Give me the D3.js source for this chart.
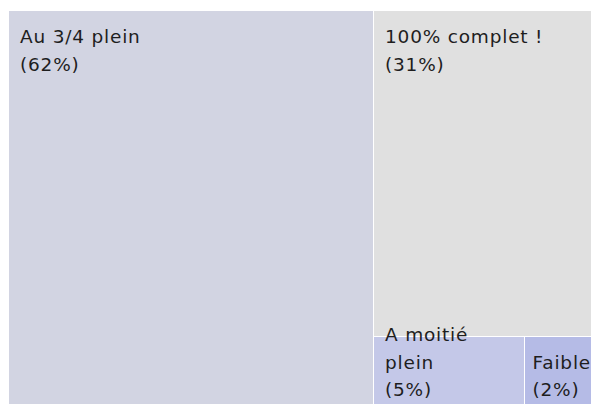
<!DOCTYPE html>
<html>
<head>
<meta charset="utf-8">
<script src="https://cdn.jsdelivr.net/npm/d3@7"></script>
<style>
  html, body { margin: 0; padding: 0; background: #ffffff; }
  svg { display: block; }
  text { font-family: "DejaVu Sans", sans-serif; }
</style>
</head>
<body>
<svg id="chart" width="592" height="406"></svg>
<script>
// Data
const categories = ["Au 3/4 plein", "100% complet !", "A moitié plein", "Faible"];
const values = [62.6, 30.9, 4.5, 2.0];
const percentLabels = ["62%", "31%", "5%", "2%"];
const colors = ["#d2d4e2", "#e0e0e0", "#c4c8e8", "#b5bbe6"];

const W = 592, H = 406;
const margin = { top: 11, right: 1, bottom: 2, left: 9 };

const svg = d3.select("#chart");

const root = d3.hierarchy({
  children: categories.map((c, i) => ({ name: c, value: values[i], pct: percentLabels[i], color: colors[i] }))
}).sum(d => d.value || 0).sort((a, b) => b.value - a.value);

d3.treemap()
  .tile(d3.treemapSquarify)
  .size([W - margin.left - margin.right, H - margin.top - margin.bottom])
  .paddingInner(1)
  .round(true)(root);

const g = svg.append("g").attr("transform", `translate(${margin.left},${margin.top})`);

const leaf = g.selectAll("g.leaf").data(root.leaves()).join("g").attr("class", "leaf");

leaf.append("rect")
  .attr("x", d => d.x0)
  .attr("y", d => d.y0)
  .attr("width", d => d.x1 - d.x0)
  .attr("height", d => d.y1 - d.y0)
  .attr("fill", d => d.data.color);

const fontSize = 18.5, letterSp = 0.8, lineH = 27.5, padX = 11, padTop = 32, padBottom = 8;

leaf.each(function(d) {
  const sel = d3.select(this);
  const maxW = d.x1 - d.x0 - 2 * padX;
  const words = d.data.name.split(" ");
  const probe = sel.append("text").attr("font-size", fontSize).attr("letter-spacing", letterSp);
  const measure = s => { probe.text(s); return probe.node().getComputedTextLength(); };
  const lines = [];
  let cur = "";
  words.forEach(w => {
    const test = cur ? cur + " " + w : w;
    if (measure(test) > maxW && cur) {
      lines.push(cur);
      cur = w;
    } else {
      cur = test;
    }
  });
  if (cur) lines.push(cur);
  lines.push("(" + d.data.pct + ")");
  const widest = d3.max(lines, measure);
  probe.remove();
  const x = Math.max(d.x0 + 1, Math.min(d.x0 + padX, d.x1 - widest));
  const startY = Math.min(d.y0 + padTop, d.y1 - padBottom - (lines.length - 1) * lineH);
  const t = sel.append("text")
    .attr("font-size", fontSize)
    .attr("letter-spacing", letterSp)
    .attr("fill", "#1e1e1e");
  lines.forEach((ln, i) => {
    t.append("tspan")
      .attr("x", x)
      .attr("y", startY + i * lineH)
      .text(ln);
  });
});
</script>
</body>
</html>
